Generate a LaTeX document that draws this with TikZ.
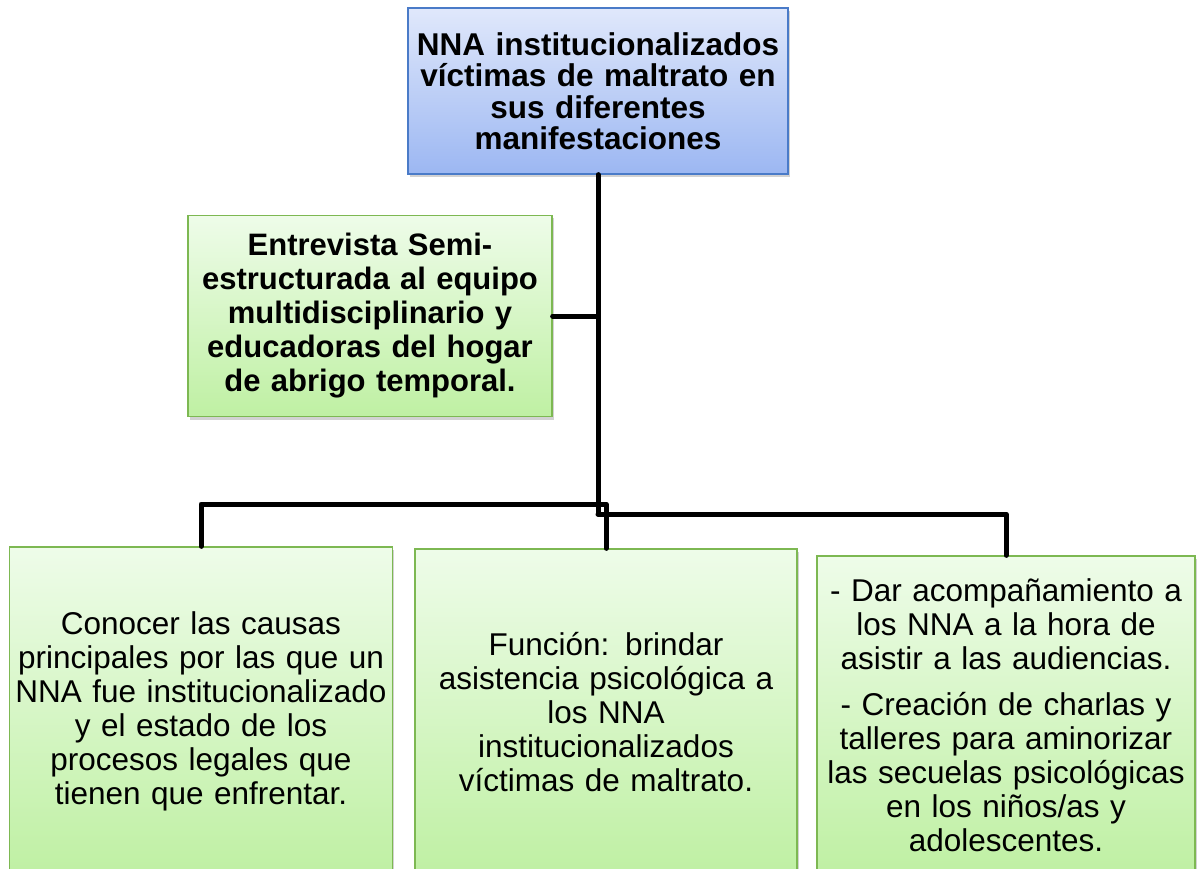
\documentclass[tikz,border=0pt]{standalone}
\usepackage{fontspec}
\setmainfont{Liberation Sans}
\usetikzlibrary{shadows}
\definecolor{blueTop}{HTML}{E0E8FB}
\definecolor{blueBot}{HTML}{9CB7F2}
\definecolor{blueLine}{HTML}{4A7BC8}
\definecolor{greenTop}{HTML}{EEFCE9}
\definecolor{greenBot}{HTML}{BFF0A3}
\definecolor{greenLine}{HTML}{7DB852}
\tikzset{
  shade box/.style={draw, line width=1.3pt, align=center, inner sep=2pt,
    drop shadow={opacity=0.35, shadow xshift=1.5pt, shadow yshift=-3pt}},
  bluebox/.style={shade box, draw=blueLine, top color=blueTop, bottom color=blueBot},
  greenbox/.style={shade box, draw=greenLine, top color=greenTop, bottom color=greenBot},
  conn/.style={line width=5pt, line join=round, line cap=round, black}
}
\begin{document}
\begin{tikzpicture}[x=1pt,y=-1pt]
\useasboundingbox (0,0) rectangle (1197,869);
\clip (0,0) rectangle (1197,869);
\fill[white] (0,0) rectangle (1197,869);

\node[bluebox, minimum width=380pt, minimum height=166pt, text width=376pt,
  font=\bfseries\fontsize{31.5}{31.5}\selectfont] (top) at (598,91)
  {NNA institucionalizados\\víctimas de maltrato en\\sus diferentes\\manifestaciones};

\coordinate (j1) at (598,504);
\coordinate (j2) at (598,514);

\node[greenbox, minimum width=364pt, minimum height=201pt, text width=360pt,
  font=\bfseries\fontsize{31}{34}\selectfont] (ent) at (370,316)
  {Entrevista Semi-\\estructurada al equipo\\multidisciplinario y\\educadoras del hogar\\de abrigo temporal.};

\node[greenbox, minimum width=383pt, minimum height=328pt, text width=379pt,
  font=\fontsize{31.5}{34}\selectfont] (b1) at (201,711)
  {Conocer las causas\\principales por las que un\\NNA fue institucionalizado\\y el estado de los\\procesos legales que\\tienen que enfrentar.};

\node[greenbox, minimum width=382pt, minimum height=326pt, text width=378pt,
  font=\fontsize{31.5}{34}\selectfont] (b2) at (606,712)
  {Función: brindar\\asistencia psicológica a\\los NNA\\institucionalizados\\víctimas de maltrato.};

\node[greenbox, minimum width=378pt, minimum height=318pt, text width=374pt,
  font=\fontsize{31.5}{34}\selectfont] (b3) at (1006,715)
  {- Dar acompañamiento a\\los NNA a la hora de\\asistir a las audiencias.\\[12pt]- Creación de charlas y\\talleres para aminorizar\\las secuelas psicológicas\\en los niños/as y\\adolescentes.};

\draw[conn] (top.south) -- (j2);
\draw[conn] (ent.east) -- (ent.east -| top.south);
\draw[conn] (j1) -| (b1.north);
\draw[conn] (j1) -| (b2.north);
\draw[conn] (j2) -| (b3.north);
\end{tikzpicture}
\end{document}
